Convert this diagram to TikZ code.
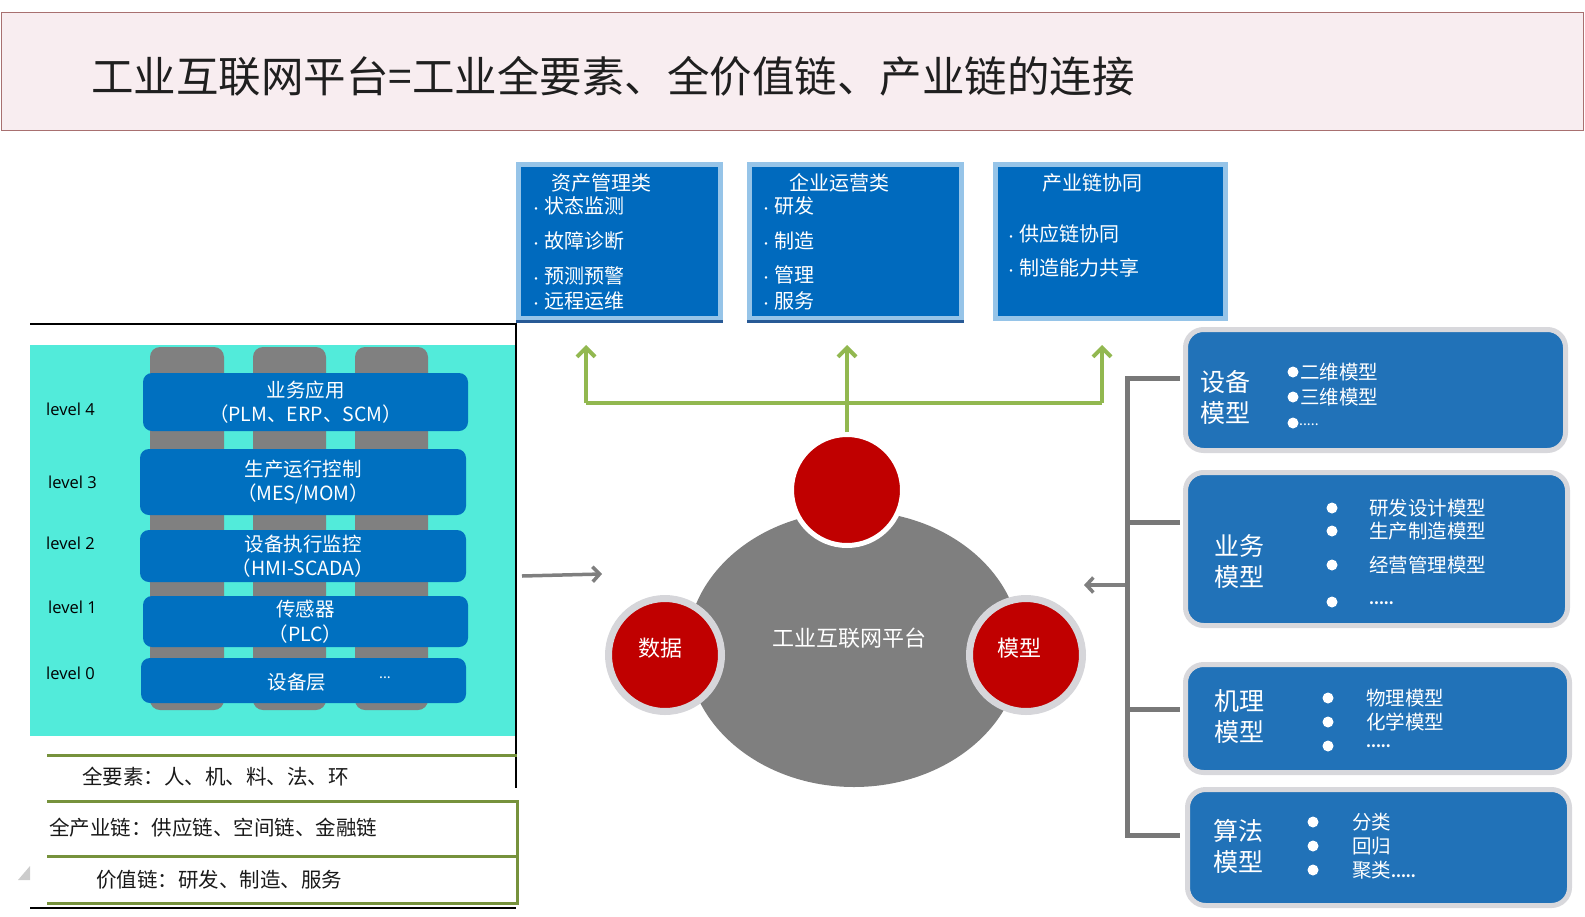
\documentclass[tikz,border=0pt]{standalone}
\usepackage{fontspec}
\setmainfont{Noto Sans CJK SC}
\newfontfamily\latf{Open Sans}
\usetikzlibrary{arrows.meta,shapes.geometric}
\definecolor{titlefill}{RGB}{248,237,240}
\definecolor{titledraw}{RGB}{168,112,112}
\definecolor{tbblue}{RGB}{0,106,190}
\definecolor{tbring}{RGB}{150,196,232}
\definecolor{tbstrip}{RGB}{40,90,150}
\definecolor{cyanbg}{RGB}{82,235,218}
\definecolor{pillar}{RGB}{128,128,128}
\definecolor{barblue}{RGB}{0,112,192}
\definecolor{olivec}{RGB}{118,146,60}
\definecolor{garrowc}{RGB}{146,184,80}
\definecolor{platgray}{RGB}{127,127,127}
\definecolor{redc}{RGB}{192,0,0}
\definecolor{ringgray}{RGB}{214,214,218}
\definecolor{mblue}{RGB}{33,114,184}
\definecolor{mring}{RGB}{216,216,220}
\definecolor{brackc}{RGB}{120,120,120}
\newcommand{\fsz}[1]{\fontsize{#1}{#1}\selectfont}
\newcommand{\tbul}{{\fontsize{12}{12}\selectfont\textbullet}\hspace{2pt}}
\begin{document}
\begin{tikzpicture}[x=1pt,y=-1pt,
  topbox/.style={draw=tbring, line width=5pt, fill=tbblue, inner sep=0pt},
  toptxt/.style={text=white, font=\fsz{20}, anchor=west, inner sep=0pt},
  tophead/.style={text=white, font=\fsz{20}, inner sep=0pt},
  pill/.style={fill=pillar, rounded corners=10pt},
  bar/.style={fill=barblue, rounded corners=9pt, text=white, align=center, font=\fontsize{19.5}{24.5}\selectfont, inner sep=0pt},
  lvl/.style={font=\latf\fsz{16.5}, anchor=west, inner sep=0pt},
  rowtxt/.style={font=\fsz{20.5}, anchor=west, inner sep=0pt, text=black!90},
  oliveline/.style={draw=olivec, line width=3pt},
  blackline/.style={draw=black, line width=2.5pt},
  garrow/.style={draw=garrowc, line width=4pt},
  garrowtip/.style={garrow, -{Straight Barb[length=9pt,width=18pt]}},
  grayarr/.style={draw=platgray, line width=3.5pt, -{Straight Barb[length=7pt,width=15pt]}},
  redcirc/.style={circle, fill=redc, draw=ringgray, line width=7pt, minimum size=113pt, inner sep=0pt},
  redtxt/.style={text=white, font=\fsz{22}, inner sep=0pt},
  mbox/.style={draw=mring, line width=5pt, fill=mblue, rounded corners=18pt, inner sep=0pt},
  mtitle/.style={text=white, font=\fontsize{25}{31}\selectfont, align=center, inner sep=0pt},
  mitem/.style={text=white, font=\fsz{19.5}, anchor=west, inner sep=0pt},
  wdot/.style={circle, fill=white, minimum size=11pt, inner sep=0pt},
  brack/.style={draw=brackc, line width=5pt}
]
\useasboundingbox (0,0) rectangle (1585,916);

% title
\node[draw=titledraw, fill=titlefill, line width=1.5pt, minimum width=1582pt, minimum height=118pt, inner sep=0pt] (titlebox) at (792.5,71.5) {};
\node[anchor=west, inner sep=0pt, font=\fsz{42.5}, text=black!88] (title) at (91,76) {工业互联网平台=工业全要素、全价值链、产业链的连接};

% top boxes
\node[topbox, minimum width=202pt, minimum height=154pt] (b1) at (619.5,241.5) {};
\node[topbox, minimum width=212pt, minimum height=154pt] (b2) at (855.5,241.5) {};
\node[topbox, minimum width=230pt, minimum height=154pt] (b3) at (1110.5,241.5) {};
\draw[tbstrip, line width=3pt] (b1.south west) -- (b1.south east);
\draw[tbstrip, line width=3pt] (b2.south west) -- (b2.south east);
\node[tophead] (b1h) at (601,183) {资产管理类};
\node[toptxt] (b1a) at (530,206) {\tbul 状态监测};
\node[toptxt] (b1b) at (530,241) {\tbul 故障诊断};
\node[toptxt] (b1c) at (530,276) {\tbul 预测预警};
\node[toptxt] (b1d) at (530,301) {\tbul 远程运维};
\node[tophead] (b2h) at (839,183) {企业运营类};
\node[toptxt] (b2a) at (760,206) {\tbul 研发};
\node[toptxt] (b2b) at (760,241) {\tbul 制造};
\node[toptxt] (b2c) at (760,275) {\tbul 管理};
\node[toptxt] (b2d) at (760,301) {\tbul 服务};
\node[tophead] (b3h) at (1092,183) {产业链协同};
\node[toptxt] (b3a) at (1005,234) {\tbul 供应链协同};
\node[toptxt] (b3b) at (1005,268) {\tbul 制造能力共享};

% left panel
\fill[cyanbg] (30,345) rectangle (516,736);
\fill[pill] (150,347) rectangle (224,710);
\fill[pill] (253,347) rectangle (326,710);
\fill[pill] (355,347) rectangle (428,710);
\node[bar, minimum width=325pt, minimum height=58pt] (l4) at (305.5,402) {业务应用\\（PLM、ERP、SCM）};
\node[bar, minimum width=326pt, minimum height=66pt] (l3) at (303,482) {生产运行控制\\（MES/MOM）};
\node[bar, minimum width=326pt, minimum height=52pt] (l2) at (303,556) {设备执行监控\\（HMI-SCADA）};
\node[bar, minimum width=325pt, minimum height=51pt] (l1) at (305.5,621.5) {传感器\\（PLC）};
\node[bar, minimum width=325pt, minimum height=45pt] (l0) at (303.5,680.5) {};
\node[text=white, font=\fsz{19.5}, inner sep=0pt] (l0t) at (297,682) {设备层};
\node[text=white, font=\fsz{14}, inner sep=0pt] (l0d) at (385,678) {...};
\node[lvl] (v4) at (46,409) {level 4};
\node[lvl] (v3) at (48,482) {level 3};
\node[lvl] (v2) at (46,543) {level 2};
\node[lvl] (v1) at (48,607) {level 1};
\node[lvl] (v0) at (46,673) {level 0};
\draw[blackline] (30,324) -- (516,324) -- (516,788);
\draw[blackline] (30,908) -- (516,908);
\draw[oliveline] (47,755) -- (517,755);
\draw[oliveline] (47,801) -- (517,801) -- (517,903) -- (47,903);
\draw[oliveline] (47,856) -- (517,856);
\node[rowtxt] (r1) at (82,777) {全要素：人、机、料、法、环};
\node[rowtxt] (r2) at (49,828) {全产业链：供应链、空间链、金融链};
\node[rowtxt] (r3) at (96,880) {价值链：研发、制造、服务};
\fill[black!20] (18,880) -- (30,880) -- (30,866) -- cycle;

% center platform
\node[ellipse, fill=platgray, minimum width=334pt, minimum height=276pt, inner sep=0pt] (plat) at (854,649) {};
\node[text=white, font=\fsz{22}, inner sep=0pt] (platt) at (849,638) {工业互联网平台};
\node[redcirc, draw=white, line width=5pt, minimum size=111pt] (ctop) at (847,490) {};
\node[redcirc] (cdata) at (665,655) {};
\node[redcirc] (cmodel) at (1026,655) {};
\node[redtxt] (cdatat) at (660,648) {数据};
\node[redtxt] (cmodelt) at (1019,648) {模型};

% green arrows
\coordinate (g1) at (586,403);
\coordinate (g3) at (1102,403);
\coordinate (t1) at (586,345);
\coordinate (t2) at (847,345);
\coordinate (t3) at (1102,345);
\draw[garrow] (g1) -- (g3);
\draw[garrowtip] (g1) -- (t1);
\draw[garrowtip] (ctop.north) -- (t2);
\draw[garrowtip] (g3) -- (t3);

% gray arrows
\coordinate (la) at (522,576);
\coordinate (lb) at (602,574);
\draw[grayarr] (la) -- (lb);
\coordinate (ra) at (1127,585);
\coordinate (rb) at (1084,585);
\draw[grayarr] (ra) -- (rb);

% right bracket
\coordinate (s1) at (1180,378);
\coordinate (s2) at (1180,522);
\coordinate (s3) at (1180,709);
\coordinate (s4) at (1180,835);
\draw[brack] (s1) -- (1127,378) -- (1127,835) -- (s4);
\draw[brack] (1127,522) -- (s2);
\draw[brack] (1127,709) -- (s3);

% model boxes
\node[mbox, minimum width=380pt, minimum height=121pt] (m1) at (1375.5,390) {};
\node[mbox, minimum width=382pt, minimum height=153pt] (m2) at (1376.5,549) {};
\node[mbox, minimum width=384pt, minimum height=108pt] (m3) at (1377.5,718.5) {};
\node[mbox, minimum width=382pt, minimum height=116pt] (m4) at (1378.5,847.5) {};

\node[mtitle] (m1t) at (1225,397) {设备\\模型};
\node[wdot] (m1d1) at (1293,372) {};
\node[wdot] (m1d2) at (1293,397) {};
\node[wdot] (m1d3) at (1293,423) {};
\node[mitem] (m1a) at (1300,372) {二维模型};
\node[mitem] (m1b) at (1300,397) {三维模型};
\node[mitem, font=\fsz{14}] (m1c) at (1299,425) {.....};

\node[mtitle] (m2t) at (1239,561) {业务\\模型};
\node[wdot] (m2d1) at (1332,508) {};
\node[wdot] (m2d2) at (1332,531) {};
\node[wdot] (m2d3) at (1332,565) {};
\node[wdot] (m2d4) at (1332,602) {};
\node[mitem] (m2a) at (1369,508) {研发设计模型};
\node[mitem] (m2b) at (1369,531) {生产制造模型};
\node[mitem] (m2c) at (1369,565) {经营管理模型};
\node[mitem, font=\bfseries\fsz{14}] (m2e) at (1369,603) {.....};

\node[mtitle] (m3t) at (1239,716) {机理\\模型};
\node[wdot] (m3d1) at (1328,698) {};
\node[wdot] (m3d2) at (1328,722) {};
\node[wdot] (m3d3) at (1328,746) {};
\node[mitem] (m3a) at (1366,698) {物理模型};
\node[mitem] (m3b) at (1366,722) {化学模型};
\node[mitem, font=\bfseries\fsz{14}] (m3c) at (1366,746) {.....};

\node[mtitle] (m4t) at (1238,846) {算法\\模型};
\node[wdot] (m4d1) at (1313,822) {};
\node[wdot] (m4d2) at (1313,846) {};
\node[wdot] (m4d3) at (1313,870) {};
\node[mitem] (m4a) at (1352,822) {分类};
\node[mitem] (m4b) at (1352,846) {回归};
\node[mitem] (m4c) at (1352,870) {聚类\fsz{14}\textbf{.....}};
\end{tikzpicture}
\end{document}
